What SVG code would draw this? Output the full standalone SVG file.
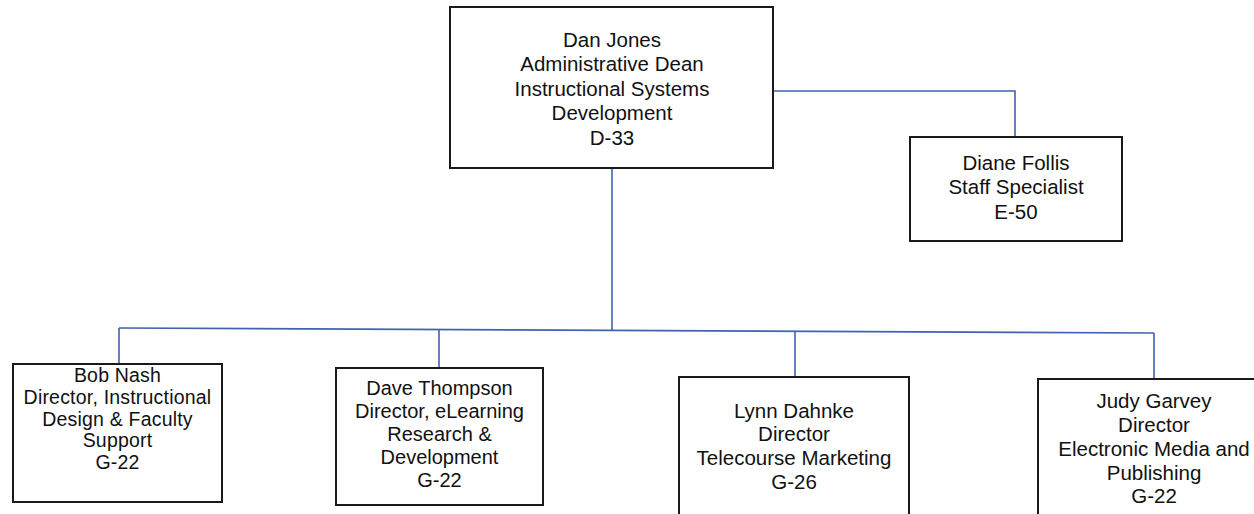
<svg xmlns="http://www.w3.org/2000/svg" width="1254" height="514" viewBox="0 0 1254 514">
<style>
.box{fill:#ffffff;stroke:#1a1a1a;stroke-width:2}
.lbl{font-family:"Liberation Sans",Arial,sans-serif;font-size:20.5px;fill:#111111;text-anchor:middle}
.tight{font-size:19.5px;letter-spacing:0.2px}
.mid{font-size:20px}
.conn{fill:none;stroke:#3f63ad;stroke-width:1.6}
</style>
<rect width="1254" height="514" fill="#ffffff"/>
<g id="connectors">
<polyline class="conn" points="773,91 1015,91 1015,137"/>
<line class="conn" x1="612" y1="168" x2="612" y2="330"/>
<line class="conn" x1="119" y1="328" x2="1154" y2="333"/>
<line class="conn" x1="119" y1="328" x2="119" y2="364"/>
<line class="conn" x1="439" y1="329.5" x2="439" y2="368"/>
<line class="conn" x1="795" y1="331.3" x2="795" y2="377"/>
<line class="conn" x1="1154" y1="333" x2="1154" y2="379"/>
</g>
<g id="dan-jones">
<rect class="box" x="450" y="7" width="323" height="161"/>
<text class="lbl" x="612" y="47">Dan Jones</text>
<text class="lbl" x="612" y="71">Administrative Dean</text>
<text class="lbl" x="612" y="96">Instructional Systems</text>
<text class="lbl" x="612" y="120">Development</text>
<text class="lbl" x="612" y="145">D-33</text>
</g>
<g id="diane-follis">
<rect class="box" x="910" y="137" width="212" height="104"/>
<text class="lbl" x="1016" y="170">Diane Follis</text>
<text class="lbl" x="1016" y="194">Staff Specialist</text>
<text class="lbl" x="1016" y="219">E-50</text>
</g>
<g id="bob-nash">
<rect class="box" x="13" y="364" width="209" height="138"/>
<text class="lbl tight" x="117.5" y="382">Bob Nash</text>
<text class="lbl tight" x="117.5" y="403.8">Director, Instructional</text>
<text class="lbl tight" x="117.5" y="425.6">Design &amp; Faculty</text>
<text class="lbl tight" x="117.5" y="447.4">Support</text>
<text class="lbl tight" x="117.5" y="469.2">G-22</text>
</g>
<g id="dave-thompson">
<rect class="box" x="336" y="368" width="207" height="137"/>
<text class="lbl mid" x="439.5" y="395">Dave Thompson</text>
<text class="lbl mid" x="439.5" y="418">Director, eLearning</text>
<text class="lbl mid" x="439.5" y="441">Research &amp;</text>
<text class="lbl mid" x="439.5" y="464">Development</text>
<text class="lbl mid" x="439.5" y="487">G-22</text>
</g>
<g id="lynn-dahnke">
<rect class="box" x="679" y="377" width="230" height="150"/>
<text class="lbl" x="794" y="418">Lynn Dahnke</text>
<text class="lbl" x="794" y="441">Director</text>
<text class="lbl" x="794" y="465">Telecourse Marketing</text>
<text class="lbl" x="794" y="489">G-26</text>
</g>
<g id="judy-garvey">
<rect class="box" x="1038" y="379" width="232" height="150"/>
<text class="lbl" x="1154" y="408">Judy Garvey</text>
<text class="lbl" x="1154" y="432">Director</text>
<text class="lbl" x="1154" y="456">Electronic Media and</text>
<text class="lbl" x="1154" y="480">Publishing</text>
<text class="lbl" x="1154" y="503">G-22</text>
</g>
</svg>
